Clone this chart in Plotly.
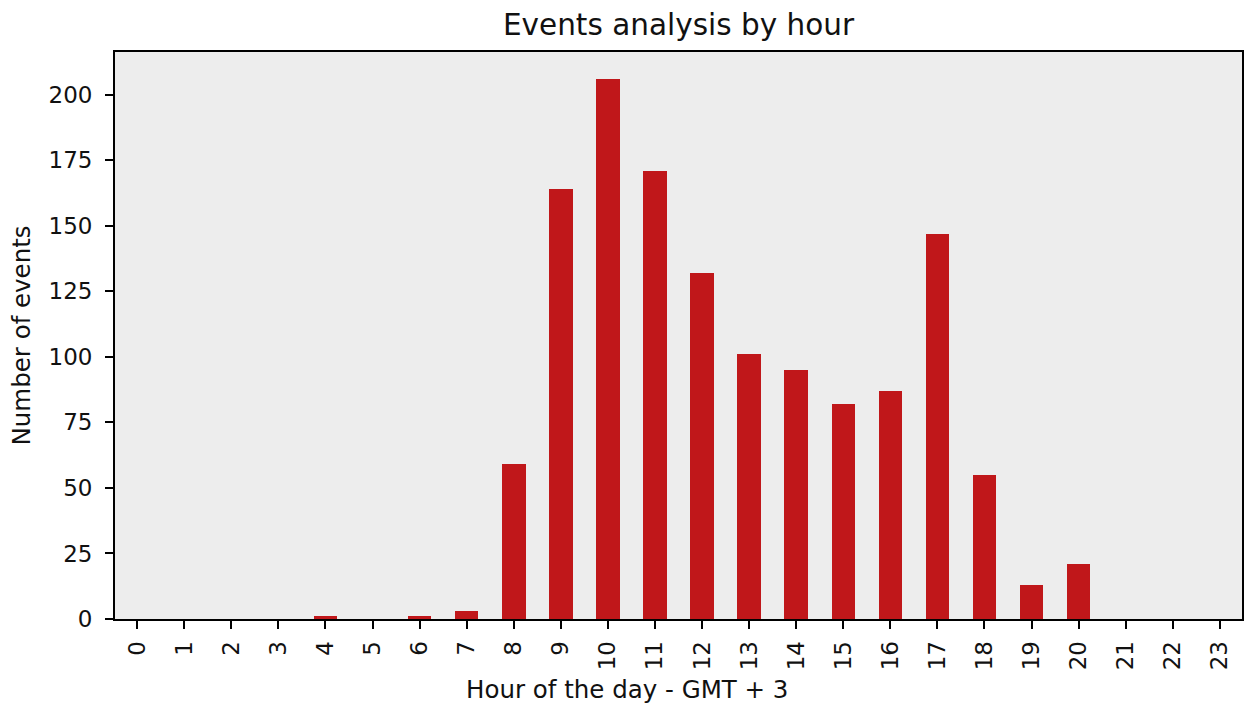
import plotly.graph_objects as go

hours = list(range(24))
events = [0, 0, 0, 0, 1, 0, 1, 3, 59, 164, 206, 171, 132, 101, 95, 82, 87, 147, 55, 13, 21, 0, 0, 0]
tick_labels = [str(h) for h in hours]
y_ticks = [0, 25, 50, 75, 100, 125, 150, 175, 200]

fig = go.Figure(go.Bar(
    x=hours, y=events, width=0.5,
    marker=dict(color="rgb(192,23,26)", line=dict(width=0)),
))

font = "DejaVu Sans, sans-serif"
fig.update_layout(
    width=1245, height=704,
    margin=dict(l=115, r=1, t=52, b=85),
    paper_bgcolor="white", plot_bgcolor="#ededed",
    font=dict(family=font, size=23, color="#111"),
    title=dict(text="Events analysis by hour", xref="paper", x=0.5, xanchor="center",
               y=1 - 25 / 704, yanchor="middle", font=dict(size=29.5, color="#111")),
    showlegend=False, bargap=0,
    annotations=[dict(text="Hour of the day - GMT + 3", xref="paper", yref="paper",
                      x=0.4544, y=-0.1252, xanchor="center", yanchor="middle",
                      showarrow=False, font=dict(size=24.5, color="#111"))],
)
fig.update_xaxes(
    range=[-0.47, 23.47], tickmode="array", tickvals=hours, ticktext=tick_labels, tickangle=-90,
    showgrid=False, zeroline=False, showline=True, linecolor="black", linewidth=1.8, mirror=True,
    ticks="outside", ticklen=8, tickcolor="black", tickwidth=1.8, ticklabelstandoff=3,
)
fig.update_yaxes(
    range=[0, 216.3], tickvals=y_ticks,
    showgrid=False, zeroline=False, showline=True, linecolor="black", linewidth=1.8, mirror=True,
    ticks="outside", ticklen=8, tickcolor="black", tickwidth=1.8, ticklabelstandoff=8,
    title=dict(text="Number of events", standoff=11, font=dict(size=24.5)),
)
fig.write_html(
    "out.html",
    config={"displayModeBar": False},
    post_script="document.body.style.margin='0';document.body.style.overflow='hidden';",
)
